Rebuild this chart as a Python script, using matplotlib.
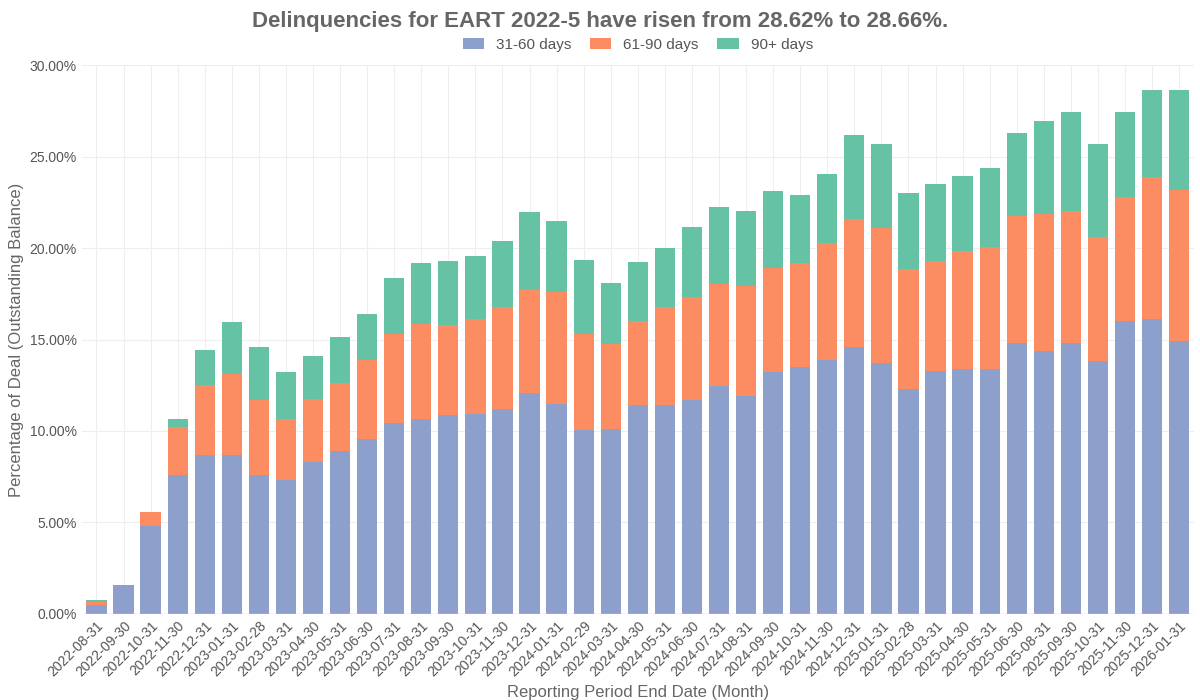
import numpy as np
from matplotlib import pyplot as plt
from matplotlib.ticker import FuncFormatter

plt.rcParams['font.family'] = ['Liberation Sans', 'DejaVu Sans']

dates = ["2022-08-31", "2022-09-30", "2022-10-31", "2022-11-30", "2022-12-31",
         "2023-01-31", "2023-02-28", "2023-03-31", "2023-04-30", "2023-05-31",
         "2023-06-30", "2023-07-31", "2023-08-31", "2023-09-30", "2023-10-31",
         "2023-11-30", "2023-12-31", "2024-01-31", "2024-02-29", "2024-03-31",
         "2024-04-30", "2024-05-31", "2024-06-30", "2024-07-31", "2024-08-31",
         "2024-09-30", "2024-10-31", "2024-11-30", "2024-12-31", "2025-01-31",
         "2025-02-28", "2025-03-31", "2025-04-30", "2025-05-31", "2025-06-30",
         "2025-08-31", "2025-09-30", "2025-10-31", "2025-11-30", "2025-12-31",
         "2026-01-31"]
# cumulative tops
top_31_60 = [0.5, 1.6, 4.8, 7.6, 8.7, 8.7, 7.6, 7.3, 8.3, 8.9, 9.55, 10.45, 10.65,
             10.9, 10.95, 11.2, 12.05, 11.45, 10.05, 10.1, 11.4, 11.4, 11.7, 12.45,
             11.9, 13.2, 13.5, 13.9, 14.6, 13.7, 12.3, 13.3, 13.4, 13.4, 14.8, 14.35,
             14.8, 13.8, 16.0, 16.1, 14.9]
top_61_90 = [0.65, 1.6, 5.55, 10.2, 12.5, 13.1, 11.7, 10.65, 11.75, 12.6, 13.9, 15.3,
             15.85, 15.8, 16.1, 16.75, 17.7, 17.6, 15.3, 14.75, 16.0, 16.75, 17.3,
             18.05, 17.95, 18.9, 19.2, 20.25, 21.6, 21.1, 18.85, 19.3, 19.85, 20.05,
             21.75, 21.85, 22.0, 20.6, 22.8, 23.9, 23.15]
total = [0.77, 1.6, 5.55, 10.65, 14.4, 15.95, 14.6, 13.2, 14.1, 15.15, 16.4, 18.35,
         19.2, 19.3, 19.55, 20.4, 21.95, 21.5, 19.35, 18.1, 19.25, 20.0, 21.15, 22.25,
         22.0, 23.1, 22.9, 24.05, 26.2, 25.7, 23.0, 23.5, 23.95, 24.35, 26.3, 26.95,
         27.45, 25.7, 27.45, 28.62, 28.66]

a = np.array(top_31_60)
b = np.array(top_61_90) - a
c = np.array(total) - np.array(top_61_90)
x = np.arange(len(dates))

fig, ax = plt.subplots(figsize=(12, 7), dpi=100)
fig.subplots_adjust(left=0.068, right=0.995, top=0.907, bottom=0.123)
ax.bar(x, a, 0.75, color="#8da0cb", label="31-60 days", zorder=2)
ax.bar(x, b, 0.75, bottom=a, color="#fc8d62", label="61-90 days", zorder=2)
ax.bar(x, c, 0.75, bottom=a + b, color="#66c2a5", label="90+ days", zorder=2)

ax.set_xlim(-0.55, len(dates) - 0.45)
ax.set_ylim(0, 30)
ax.set_yticks(np.arange(0, 31, 5))
ax.yaxis.set_major_formatter(FuncFormatter(lambda v, p: f"{v:.2f}%"))
ax.set_xticks(x)
ax.set_xticklabels(dates, rotation=45, ha="right", rotation_mode="anchor")
ax.tick_params(colors="#555555", labelsize=10, length=0)
ax.grid(True, color="#eeeeee", zorder=0)
for s in ax.spines.values():
    s.set_visible(False)
ax.axhline(0, color="#cccccc", lw=1, zorder=3)
ax.set_xlabel("Reporting Period End Date (Month)", color="#666666", fontsize=12)
ax.set_ylabel("Percentage of Deal (Outstanding Balance)", color="#666666", fontsize=12)
fig.suptitle("Delinquencies for EART 2022-5 have risen from 28.62% to 28.66%.",
             fontsize=16, fontweight="bold", color="#666666", y=0.985)
ax.legend(loc="upper center", bbox_to_anchor=(0.5, 1.075), ncol=3, frameon=False,
          fontsize=11, labelcolor="#555555", handlelength=1.4, columnspacing=1.2)
plt.savefig("out.png")
